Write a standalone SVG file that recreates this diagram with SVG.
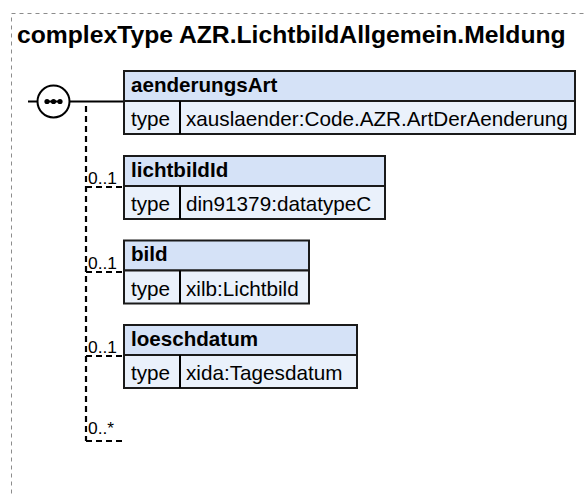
<svg xmlns="http://www.w3.org/2000/svg" width="585" height="494" viewBox="0 0 585 494">
<style>
.frame{fill:none;stroke:#8c8c8c;stroke-width:1;stroke-dasharray:4,4}
.title{font-family:"Liberation Sans",Arial,sans-serif;font-size:24.7px;font-weight:bold;fill:#000}
.hd{fill:#d5e2f7;stroke:#1a1a1a;stroke-width:2}
.rw{fill:#eaf1fb;stroke:#1a1a1a;stroke-width:2}
.name{font-family:"Liberation Sans",Arial,sans-serif;font-size:20.6px;font-weight:bold;fill:#000}
.txt{font-family:"Liberation Sans",Arial,sans-serif;font-size:20.7px;fill:#000}
.occ{font-family:"Liberation Sans",Arial,sans-serif;font-size:17.4px;fill:#000}
.solid{stroke:#000;stroke-width:2;fill:none}
.dash{stroke:#000;stroke-width:2.2;fill:none;stroke-dasharray:6,4}
</style>
<rect class="frame" x="11.5" y="13.5" width="600" height="500"/>
<text class="title" x="17" y="43">complexType AZR.LichtbildAllgemein.Meldung</text>

<g id="connectors">
  <line class="solid" x1="28" y1="101.5" x2="37" y2="101.5"/>
  <line class="solid" x1="70" y1="101.5" x2="124" y2="101.5"/>
  <path class="dash" d="M86,106 V441"/>
  <path class="dash" d="M86,187 H124"/>
  <path class="dash" d="M86,272 H124"/>
  <path class="dash" d="M86,356 H124"/>
  <path class="dash" d="M86,441 H122"/>
  <text class="occ" x="88" y="184">0..1</text>
  <text class="occ" x="88" y="269">0..1</text>
  <text class="occ" x="88" y="353">0..1</text>
  <text class="occ" x="88" y="434">0..*</text>
</g>

<g id="sequence">
  <circle cx="53.5" cy="101.5" r="16" fill="#fff" stroke="#000" stroke-width="2"/>
  <line x1="47" y1="101.5" x2="60" y2="101.5" stroke="#000" stroke-width="2"/>
  <circle cx="47" cy="101.5" r="2.6" fill="#000"/>
  <circle cx="53.5" cy="101.5" r="2.6" fill="#000"/>
  <circle cx="60" cy="101.5" r="2.6" fill="#000"/>
</g>

<g id="aenderungsArt">
  <rect class="hd" x="124" y="71" width="451" height="30"/>
  <rect class="rw" x="124" y="101" width="451" height="33"/>
  <line class="solid" x1="180" y1="101" x2="180" y2="134"/>
  <text class="name" x="131" y="91.7">aenderungsArt</text>
  <text class="txt" x="131" y="126">type</text>
  <text class="txt" x="186" y="126">xauslaender:Code.AZR.ArtDerAenderung</text>
</g>

<g id="lichtbildId">
  <rect class="hd" x="124" y="156" width="261" height="30"/>
  <rect class="rw" x="124" y="186" width="261" height="33"/>
  <line class="solid" x1="180" y1="186" x2="180" y2="219"/>
  <text class="name" x="131" y="176.7">lichtbildId</text>
  <text class="txt" x="131" y="211">type</text>
  <text class="txt" x="186" y="211">din91379:datatypeC</text>
</g>

<g id="bild">
  <rect class="hd" x="124" y="240.5" width="185" height="30"/>
  <rect class="rw" x="124" y="270.5" width="185" height="33"/>
  <line class="solid" x1="180" y1="270.5" x2="180" y2="303.5"/>
  <text class="name" x="131" y="261.2">bild</text>
  <text class="txt" x="131" y="295.5">type</text>
  <text class="txt" x="186" y="295.5">xilb:Lichtbild</text>
</g>

<g id="loeschdatum">
  <rect class="hd" x="124" y="325" width="233" height="30"/>
  <rect class="rw" x="124" y="355" width="233" height="33"/>
  <line class="solid" x1="180" y1="355" x2="180" y2="388"/>
  <text class="name" x="131" y="345.7">loeschdatum</text>
  <text class="txt" x="131" y="380">type</text>
  <text class="txt" x="186" y="380">xida:Tagesdatum</text>
</g>
</svg>
